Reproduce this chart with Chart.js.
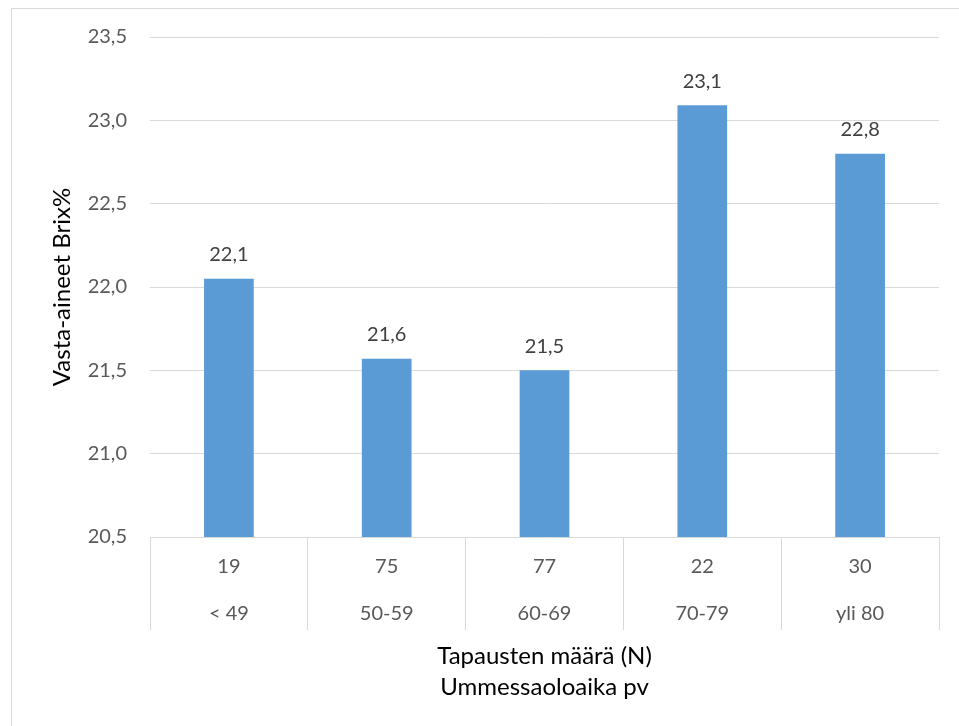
<!DOCTYPE html>
<html>
<head>
<meta charset="utf-8">
<script src="https://cdn.jsdelivr.net/npm/chart.js@4.4.1/dist/chart.umd.min.js"></script>
<style>
  html, body { margin: 0; padding: 0; background: #ffffff; }
  #wrap { position: relative; width: 959px; height: 726px; }
</style>
</head>
<body>
<div id="wrap"><canvas id="c" width="959" height="726"></canvas></div>
<script>
// Number of cases per group (first label row) and dry period length (second row)
const caseCounts = ['19', '75', '77', '22', '30'];
const periods = ['< 49', '50-59', '60-69', '70-79', 'yli 80'];
// Mean colostrum Brix% per group
const brix = [22.05, 21.57, 21.5, 23.09, 22.8];
// Value axis range
const yMin = 20.5;
const yMax = 23.5;
const yStep = 0.5;

const FONT = 'Lato, "Open Sans", sans-serif';
const fmt = v => v.toFixed(1).replace('.', ',');

const categories = caseCounts.map((n, i) => [n, periods[i]]);

// Light frame around the chart
const framePlugin = {
  id: 'frame',
  beforeDraw(chart) {
    const ctx = chart.ctx;
    ctx.save();
    ctx.strokeStyle = '#d9d9d9';
    ctx.lineWidth = 1;
    ctx.strokeRect(11.5, 8.5, chart.width + 20, chart.height + 20);
    ctx.restore();
  }
};

// Value labels above each bar, formatted from the bar's own value
const valueLabels = {
  id: 'valueLabels',
  afterDatasetsDraw(chart) {
    const ctx = chart.ctx;
    const meta = chart.getDatasetMeta(0);
    const data = chart.data.datasets[0].data;
    ctx.save();
    ctx.font = '20px ' + FONT;
    ctx.fillStyle = '#404040';
    ctx.textAlign = 'center';
    ctx.textBaseline = 'middle';
    meta.data.forEach((bar, i) => {
      ctx.fillText(fmt(data[i]), bar.x, bar.y - 24);
    });
    ctx.restore();
  }
};

new Chart(document.getElementById('c'), {
  type: 'bar',
  data: {
    labels: categories,
    datasets: [{
      data: brix,
      backgroundColor: '#5b9bd5',
      borderWidth: 0,
      barPercentage: 0.63,
      categoryPercentage: 0.5
    }]
  },
  options: {
    responsive: false,
    animation: false,
    layout: { padding: { top: 37, right: 20, bottom: 0, left: 0 } },
    plugins: {
      legend: { display: false },
      tooltip: { enabled: false }
    },
    scales: {
      x: {
        offset: true,
        border: { display: false },
        grid: {
          offset: true,
          drawOnChartArea: false,
          drawTicks: true,
          tickLength: 93,
          color: '#d9d9d9',
          lineWidth: 1
        },
        ticks: {
          color: '#595959',
          font: { family: FONT, size: 20, lineHeight: 47 / 20 },
          padding: -86.5,
          maxRotation: 0,
          autoSkip: false
        },
        title: {
          display: true,
          text: ['Tapausten määrä (N)', 'Ummessaoloaika pv'],
          color: '#000000',
          font: { family: FONT, size: 24, lineHeight: 31 / 24 },
          padding: { top: 0, bottom: 23.5 }
        },
        afterFit(scale) { scale.height = 189; }
      },
      y: {
        min: yMin,
        max: yMax,
        border: { display: false },
        grid: {
          color: '#d9d9d9',
          lineWidth: 1,
          drawTicks: false
        },
        ticks: {
          stepSize: yStep,
          color: '#595959',
          font: { family: FONT, size: 20 },
          padding: 23,
          callback: v => fmt(v)
        },
        title: {
          display: true,
          text: 'Vasta-aineet Brix%',
          color: '#000000',
          font: { family: FONT, size: 24, lineHeight: 1.2 },
          padding: { top: 47.6, bottom: 0 }
        },
        afterFit(scale) { scale.width = 150; }
      }
    }
  },
  plugins: [framePlugin, valueLabels]
});
</script>
</body>
</html>
